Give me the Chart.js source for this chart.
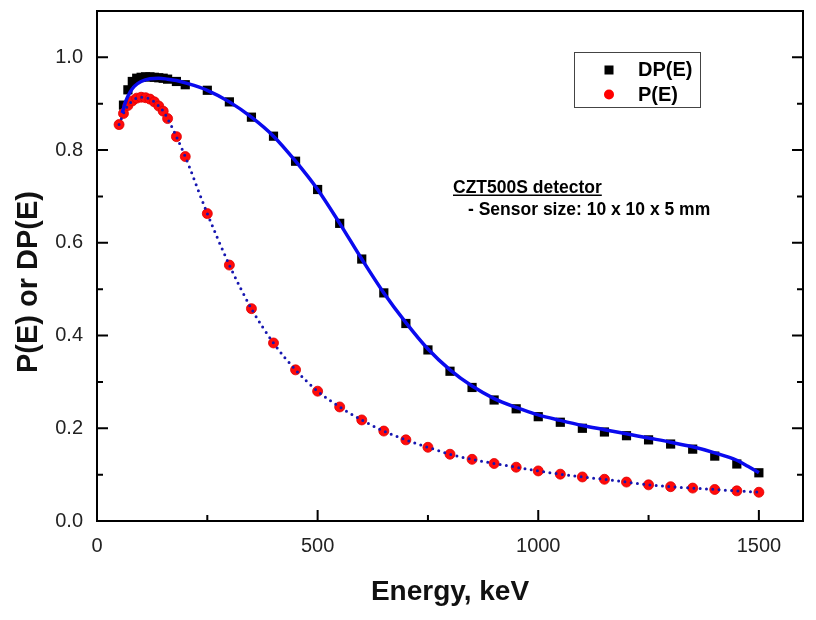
<!DOCTYPE html>
<html>
<head>
<meta charset="utf-8">
<script src="https://cdn.jsdelivr.net/npm/chart.js@4.4.1/dist/chart.umd.min.js"></script>
<style>
  html, body { margin: 0; padding: 0; background: #ffffff; overflow: hidden; }
  canvas { display: block; }
</style>
</head>
<body>
<canvas id="c" width="816" height="620"></canvas>
<script>
// ---------- data ----------
const dpEnergy = [60, 70, 80, 90, 100, 110, 120, 130, 140, 150, 160, 180, 200,
  250, 300, 350, 400, 450, 500, 550, 600, 650, 700, 750, 800, 850, 900, 950,
  1000, 1050, 1100, 1150, 1200, 1250, 1300, 1350, 1400, 1450, 1500];
const dpValues = [0.897, 0.930, 0.948, 0.955, 0.957, 0.958, 0.958, 0.957, 0.956, 0.955, 0.953, 0.948, 0.941,
  0.929, 0.904, 0.871, 0.830, 0.776, 0.715, 0.642, 0.565, 0.492, 0.426, 0.369, 0.323, 0.288, 0.261, 0.242,
  0.225, 0.213, 0.200, 0.192, 0.184, 0.175, 0.166, 0.155, 0.140, 0.123, 0.104];

const pEnergy = [50, 60, 70, 80, 90, 100, 110, 120, 130, 140, 150, 160, 180, 200,
  250, 300, 350, 400, 450, 500, 550, 600, 650, 700, 750, 800, 850, 900, 950,
  1000, 1050, 1100, 1150, 1200, 1250, 1300, 1350, 1400, 1450, 1500];
const pValues = [0.855, 0.879, 0.896, 0.906, 0.912, 0.914, 0.913, 0.910, 0.904, 0.895, 0.884, 0.868, 0.829, 0.786,
  0.663, 0.552, 0.458, 0.384, 0.326, 0.280, 0.246, 0.218, 0.194, 0.175, 0.159, 0.144, 0.133, 0.124, 0.116,
  0.108, 0.101, 0.095, 0.090, 0.084, 0.078, 0.074, 0.071, 0.068, 0.065, 0.062];

// fitted curves
const dpFitEnergy = [57, 65, 75, 85, 100, 120, 140, 160, 180, 200, 250, 300, 350, 400, 450, 500, 550, 600,
  650, 700, 750, 800, 850, 900, 950, 1000, 1050, 1100, 1150, 1200, 1250, 1300, 1350, 1400, 1450, 1475, 1500];
const dpFitValues = [0.880, 0.905, 0.925, 0.938, 0.948, 0.954, 0.955, 0.953, 0.950, 0.945, 0.929, 0.904, 0.871,
  0.830, 0.776, 0.715, 0.642, 0.565, 0.492, 0.428, 0.371, 0.326, 0.291, 0.264, 0.245, 0.229, 0.217, 0.206,
  0.197, 0.188, 0.179, 0.170, 0.160, 0.147, 0.131, 0.118, 0.104];
const pFitEnergy = pEnergy;
const pFitValues = pValues;

// axis ticks
const xMajorTicks = [0, 500, 1000, 1500];
const xMinorTicks = [250, 750, 1250];
const yMajorTicks = [0, 0.2, 0.4, 0.6, 0.8, 1.0];
const yMinorTicks = [0.1, 0.3, 0.5, 0.7, 0.9];

const seriesNames = ['DP(E)', 'P(E)'];
const xTitle = 'Energy, keV';
const yTitle = 'P(E) or DP(E)';
const noteTitle = 'CZT500S detector';
const noteLine = '- Sensor size: 10 x 10 x 5 mm';

// ---------- helpers ----------
const toXY = (xs, ys) => xs.map((x, i) => ({ x: x, y: ys[i] }));
const FONT = "'Liberation Sans', Arial, Helvetica, sans-serif";

const framePlugin = {
  id: 'frameTicks',
  afterDraw(chart) {
    const ctx = chart.ctx;
    const ca = chart.chartArea;
    const xs = chart.scales.x, ys = chart.scales.y;
    ctx.save();
    ctx.strokeStyle = '#000';
    ctx.lineWidth = 2;
    ctx.strokeRect(ca.left, ca.top, ca.right - ca.left, ca.bottom - ca.top);
    ctx.beginPath();
    const tick = (len, vals, axis) => {
      vals.forEach(v => {
        if (axis === 'x') {
          const px = xs.getPixelForValue(v);
          ctx.moveTo(px, ca.bottom); ctx.lineTo(px, ca.bottom - len);
        } else {
          const py = ys.getPixelForValue(v);
          ctx.moveTo(ca.left, py); ctx.lineTo(ca.left + len, py);
          ctx.moveTo(ca.right, py); ctx.lineTo(ca.right - len, py);
        }
      });
    };
    tick(11, xMajorTicks.slice(1), 'x');
    tick(6, xMinorTicks, 'x');
    tick(11, yMajorTicks.slice(1), 'y');
    tick(6, yMinorTicks, 'y');
    ctx.stroke();

    // y axis title (rotated)
    ctx.save();
    ctx.translate(29, 282);
    ctx.rotate(-Math.PI / 2);
    ctx.fillStyle = '#111';
    ctx.font = 'bold 29px ' + FONT;
    ctx.textAlign = 'center';
    ctx.textBaseline = 'middle';
    ctx.fillText(yTitle, 0, 0);
    ctx.restore();

    // legend box
    ctx.lineWidth = 1;
    ctx.strokeStyle = '#444';
    ctx.strokeRect(574.5, 52.5, 126, 55);
    ctx.fillStyle = '#000';
    ctx.fillRect(604.5, 65.5, 9, 9);
    ctx.fillStyle = '#ff0000';
    ctx.beginPath(); ctx.arc(609, 94.5, 5, 0, Math.PI * 2); ctx.fill();
    ctx.fillStyle = '#000';
    ctx.font = 'bold 20px ' + FONT;
    ctx.textBaseline = 'middle';
    ctx.textAlign = 'left';
    ctx.fillText(seriesNames[0], 638, 70.5);
    ctx.fillText(seriesNames[1], 638, 95);

    // annotation
    ctx.font = 'bold 17.5px ' + FONT;
    ctx.textBaseline = 'alphabetic';
    ctx.fillText(noteTitle, 453, 193);
    const w = ctx.measureText(noteTitle).width;
    ctx.fillRect(453, 194.5, w, 1.5);
    ctx.fillText(noteLine, 468, 215);
    ctx.restore();
  }
};

new Chart(document.getElementById('c'), {
  type: 'scatter',
  data: {
    datasets: [
      {
        label: 'DP fit',
        data: toXY(dpFitEnergy, dpFitValues),
        showLine: true,
        borderColor: '#0a0aee',
        borderWidth: 3.5,
        pointRadius: 0,
        cubicInterpolationMode: 'monotone',
        order: 0
      },
      {
        label: 'P fit',
        data: toXY(pFitEnergy, pFitValues),
        showLine: true,
        borderColor: '#1616b0',
        borderWidth: 3,
        borderDash: [0, 6.3],
        borderCapStyle: 'round',
        pointRadius: 0,
        cubicInterpolationMode: 'monotone',
        order: 0
      },
      {
        label: seriesNames[0],
        data: toXY(dpEnergy, dpValues),
        pointStyle: 'rect',
        pointRadius: 6.5,
        backgroundColor: '#000000',
        borderColor: '#000000',
        borderWidth: 0,
        order: 2
      },
      {
        label: seriesNames[1],
        data: toXY(pEnergy, pValues),
        pointStyle: 'circle',
        pointRadius: 5,
        backgroundColor: '#ff0a0a',
        borderColor: '#e00000',
        borderWidth: 0.8,
        order: 1
      }
    ]
  },
  options: {
    responsive: false,
    devicePixelRatio: 1,
    animation: false,
    layout: { padding: { top: 11, right: 13, left: 0, bottom: 0 } },
    plugins: { legend: { display: false }, tooltip: { enabled: false } },
    scales: {
      x: {
        type: 'linear',
        min: 0, max: 1600,
        grid: { display: false, drawTicks: false },
        border: { display: false },
        ticks: {
          padding: 13, autoSkip: false, maxRotation: 0,
          color: '#222', font: { family: FONT, size: 20 },
          callback: v => String(v)
        },
        afterBuildTicks: s => { s.ticks = xMajorTicks.map(v => ({ value: v })); },
        title: {
          display: true, text: xTitle, color: '#111',
          font: { family: FONT, size: 28, weight: 'bold' },
          padding: { top: 0, bottom: 11 }
        },
        afterFit: s => { s.height = 99; s.paddingLeft = 0; s.paddingRight = 0; }
      },
      y: {
        type: 'linear',
        min: 0, max: 1.1,
        grid: { display: false, drawTicks: false },
        border: { display: false },
        ticks: {
          padding: 14, autoSkip: false,
          color: '#222', font: { family: FONT, size: 20 },
          callback: v => Number(v).toFixed(1)
        },
        afterBuildTicks: s => { s.ticks = yMajorTicks.map(v => ({ value: v })); },
        title: { display: false },
        afterFit: s => { s.width = 97; s.paddingTop = 0; s.paddingBottom = 0; }
      }
    }
  },
  plugins: [framePlugin]
});
</script>
</body>
</html>
